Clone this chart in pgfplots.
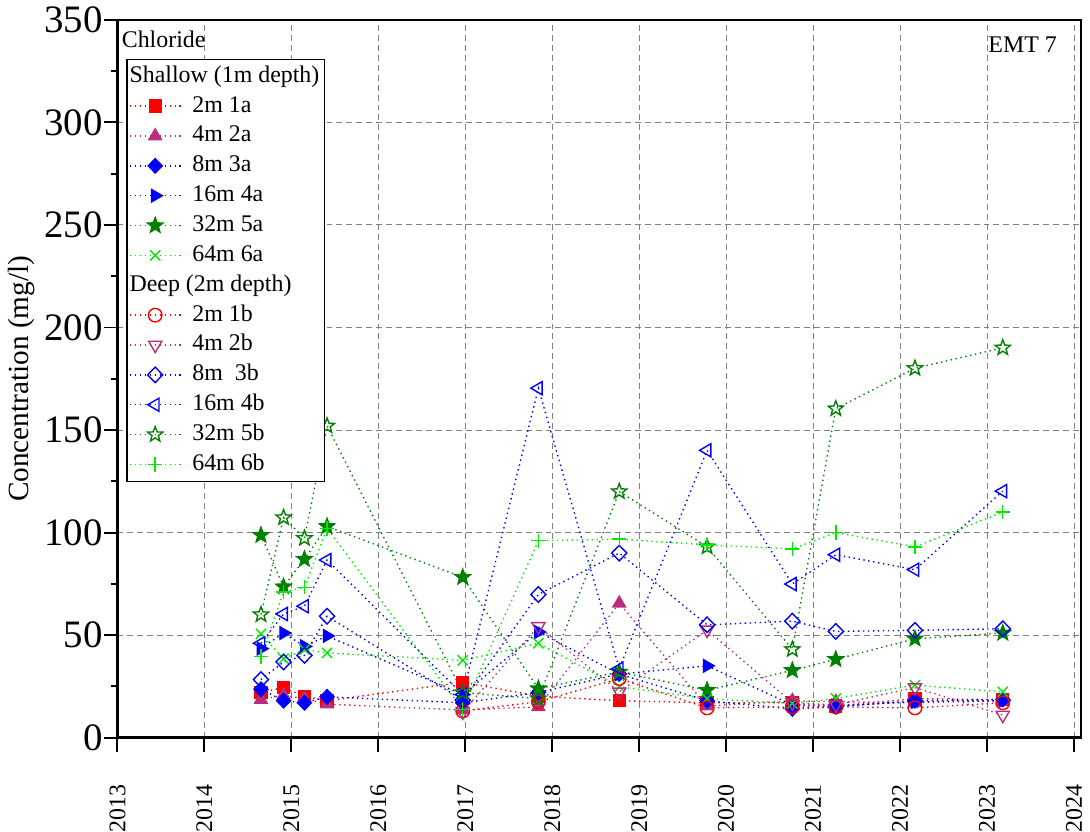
\documentclass[border=0pt]{standalone}
\usepackage{fontspec}
\setmainfont{Liberation Serif}
\usepackage{pgfplots}
\pgfplotsset{compat=1.18}
\definecolor{cred}{RGB}{255,0,0}
\definecolor{cmag}{RGB}{185,45,125}
\definecolor{cblue}{RGB}{0,0,255}
\definecolor{cdgreen}{RGB}{0,128,0}
\definecolor{clime}{RGB}{0,235,0}

\pgfdeclareplotmark{pstar}{%
  \pgfpathmoveto{\pgfqpointpolar{90}{\pgfplotmarksize}}%
  \pgfpathlineto{\pgfqpointpolar{126}{0.42\pgfplotmarksize}}%
  \pgfpathlineto{\pgfqpointpolar{162}{\pgfplotmarksize}}%
  \pgfpathlineto{\pgfqpointpolar{198}{0.42\pgfplotmarksize}}%
  \pgfpathlineto{\pgfqpointpolar{234}{\pgfplotmarksize}}%
  \pgfpathlineto{\pgfqpointpolar{270}{0.42\pgfplotmarksize}}%
  \pgfpathlineto{\pgfqpointpolar{306}{\pgfplotmarksize}}%
  \pgfpathlineto{\pgfqpointpolar{342}{0.42\pgfplotmarksize}}%
  \pgfpathlineto{\pgfqpointpolar{18}{\pgfplotmarksize}}%
  \pgfpathlineto{\pgfqpointpolar{54}{0.42\pgfplotmarksize}}%
  \pgfpathclose
  \pgfusepathqstroke}
\pgfdeclareplotmark{pstar*}{%
  \pgfpathmoveto{\pgfqpointpolar{90}{\pgfplotmarksize}}%
  \pgfpathlineto{\pgfqpointpolar{126}{0.42\pgfplotmarksize}}%
  \pgfpathlineto{\pgfqpointpolar{162}{\pgfplotmarksize}}%
  \pgfpathlineto{\pgfqpointpolar{198}{0.42\pgfplotmarksize}}%
  \pgfpathlineto{\pgfqpointpolar{234}{\pgfplotmarksize}}%
  \pgfpathlineto{\pgfqpointpolar{270}{0.42\pgfplotmarksize}}%
  \pgfpathlineto{\pgfqpointpolar{306}{\pgfplotmarksize}}%
  \pgfpathlineto{\pgfqpointpolar{342}{0.42\pgfplotmarksize}}%
  \pgfpathlineto{\pgfqpointpolar{18}{\pgfplotmarksize}}%
  \pgfpathlineto{\pgfqpointpolar{54}{0.42\pgfplotmarksize}}%
  \pgfpathclose
  \pgfusepathqfillstroke}

\begin{document}
\begin{tikzpicture}
\begin{axis}[
  name=ax,
  width=484pt, height=360.5pt, scale only axis,
  xmin=2013, xmax=2024.08, ymin=0, ymax=350,
  xtick={2013,2014,...,2024}, minor x tick num=1,
  ytick={0,50,...,350}, minor y tick num=1,
  tick pos=left, tick align=outside,
  major tick length=7pt, minor tick length=3.5pt,
  every tick/.style={black, line width=1pt},
  axis line style={line width=1.2pt},
  grid=major,
  major grid style={gray, line width=0.5pt, dash pattern=on 3pt off 2pt},
  /pgf/number format/assume math mode=true,
  x tick label style={rotate=90, anchor=east, font=\fontsize{12}{14}\selectfont, /pgf/number format/1000 sep={}, xshift=-13pt},
  y tick label style={font=\fontsize{19.5}{22}\selectfont, xshift=3pt},
  ylabel={Concentration (mg/l)},
  ylabel style={font=\fontsize{14.7}{17}\selectfont, at={(axis description cs:0,0.5)}, anchor=center, yshift=48pt},
  legend style={at={(0,1)}, anchor=north west, xshift=4.5pt, yshift=-19.5pt,
    draw=black, line width=0.6pt, font=\fontsize{12}{14}\selectfont,
    inner xsep=1pt, inner ysep=1pt, row sep=0pt, column sep=4pt,
    nodes={inner sep=1.5pt, text height=9pt, text depth=3pt}},
  legend cell align=left,
  legend image code/.code={\draw[mark repeat=2,mark phase=2] plot coordinates {(0cm,0cm) (0.45cm,0cm) (0.9cm,0cm)};},
  ser/.style={line width=0.7pt, dash pattern=on 0.7pt off 1.8pt},
]
\addlegendimage{empty legend}
\addlegendentry{\hspace*{-31.5pt}Shallow (1m depth)}
% 1a
\addplot[color=cred, ser, mark=square*, mark size=3pt, mark options={solid, fill=cred}] coordinates {
(2014.65,22) (2014.91,24.4) (2015.15,20.2) (2015.41,18) (2016.97,27) (2017.84,20.2) (2018.77,18) (2019.78,17) (2020.76,17) (2021.26,15.5) (2022.17,19) (2023.18,18.5)};
\addlegendentry{2m 1a}
% 2a
\addplot[color=cmag, ser, mark=triangle*, mark size=3.6pt, mark options={solid, fill=cmag}] coordinates {
(2014.65,18.6) (2014.91,20.7) (2015.15,19) (2015.41,16.3) (2016.97,13.5) (2017.84,15) (2018.77,65.5) (2019.78,15.4) (2020.76,18) (2021.26,17.5) (2022.17,17) (2023.18,18)};
\addlegendentry{4m 2a}
% 3a
\addplot[color=cblue, ser, mark=diamond*, mark size=3.6pt, mark options={solid, fill=cblue, xscale=1.3}] coordinates {
(2014.65,23.6) (2014.91,18) (2015.15,17) (2015.41,19.9) (2016.97,17) (2017.84,22) (2018.77,31) (2019.78,18) (2020.76,14) (2021.26,15) (2022.17,18) (2023.18,18.6)};
\addlegendentry{8m 3a}
% 4a
\addplot[color=cblue, ser, mark=triangle*, mark size=3.6pt, mark options={solid, fill=cblue, rotate=-90}] coordinates {
(2014.65,43.4) (2014.91,51) (2015.15,44.5) (2015.41,49.6) (2016.97,21) (2017.84,51.5) (2018.77,31) (2019.78,35) (2020.76,16) (2021.26,15.5) (2022.17,17.5) (2023.18,18)};
\addlegendentry{16m 4a}
% 5a
\addplot[color=cdgreen, ser, mark=pstar*, mark size=4pt, mark options={solid, fill=cdgreen}] coordinates {
(2014.65,98.7) (2014.91,73.6) (2015.15,87) (2015.41,103) (2016.97,78.2) (2017.84,23.9) (2018.77,32) (2019.78,23.1) (2020.76,32.8) (2021.26,38.2) (2022.17,48.2) (2023.18,51)};
\addlegendentry{32m 5a}
% 6a
\addplot[color=clime, ser, mark=x, mark size=3.6pt, mark options={solid}] coordinates {
(2014.65,50.6) (2014.91,38.5) (2015.15,42.9) (2015.41,41.3) (2016.97,37.7) (2017.84,46) (2018.77,24.8) (2019.78,19) (2020.76,16.7) (2021.26,19.1) (2022.17,25.6) (2023.18,22.3)};
\addlegendentry{64m 6a}
\addlegendimage{empty legend}
\addlegendentry{\hspace*{-31.5pt}Deep (2m depth)}
% 1b
\addplot[color=cred, ser, mark=o, mark size=3.4pt, mark options={solid}] coordinates {
(2016.97,13) (2017.84,17.5) (2018.77,28.8) (2019.78,14.5) (2020.76,15) (2021.26,15) (2022.17,14.5) (2023.18,17)};
\addlegendentry{2m 1b}
% 2b
\addplot[color=cmag, ser, mark=triangle, mark size=3.8pt, mark options={solid, rotate=180}] coordinates {
(2016.97,12.6) (2017.84,54.2) (2018.77,22.3) (2019.78,52.5) (2020.76,17) (2021.26,16) (2022.17,24.4) (2023.18,11)};
\addlegendentry{4m 2b}
% 3b
\addplot[color=cblue, ser, mark=diamond, mark size=3.9pt, mark options={solid, xscale=1.3}] coordinates {
(2014.65,28.3) (2014.91,36.9) (2015.15,40.1) (2015.41,59.2) (2016.97,18.3) (2017.84,69.8) (2018.77,90) (2019.78,55) (2020.76,56.8) (2021.26,51.8) (2022.17,52.3) (2023.18,53.1)};
\addlegendentry{8m \ 3b}
% 4b
\addplot[color=cblue, ser, mark=triangle, mark size=3.8pt, mark options={solid, rotate=90}] coordinates {
(2014.65,46) (2014.91,60.3) (2015.15,64.1) (2015.41,86.6) (2016.97,21) (2017.84,170.4) (2018.77,33.6) (2019.78,140.1) (2020.76,74.9) (2021.26,89.2) (2022.17,81.9) (2023.18,120.2)};
\addlegendentry{16m 4b}
% 5b
\addplot[color=cdgreen, ser, mark=pstar, mark size=4pt, mark options={solid}] coordinates {
(2014.65,60) (2014.91,107.3) (2015.15,97.2) (2015.41,152) (2016.97,22) (2017.84,19) (2018.77,120) (2019.78,93.1) (2020.76,43) (2021.26,160.4) (2022.17,180.1) (2023.18,190.1)};
\addlegendentry{32m 5b}
% 6b
\addplot[color=clime, ser, mark=+, mark size=3.6pt, mark options={solid}] coordinates {
(2014.65,39.6) (2014.91,71) (2015.15,73.3) (2015.41,102) (2016.97,13.7) (2017.84,96) (2018.77,96.8) (2019.78,94) (2020.76,92) (2021.26,100) (2022.17,93) (2023.18,110)};
\addlegendentry{64m 6b}
\node[anchor=north west, inner sep=0pt, font=\fontsize{12}{14}\selectfont, xshift=2pt, yshift=-5.5pt] at (rel axis cs:0,1) {Chloride};
\node[anchor=north east, inner sep=0pt, font=\fontsize{12}{14}\selectfont, xshift=-12pt, yshift=-8.5pt] at (rel axis cs:1,1) {EMT 7};
\end{axis}
\pgfresetboundingbox
\path ([shift={(-59pt,-47pt)}]ax.south west) rectangle ([shift={(4.5pt,10pt)}]ax.north east);
\end{tikzpicture}
\end{document}
